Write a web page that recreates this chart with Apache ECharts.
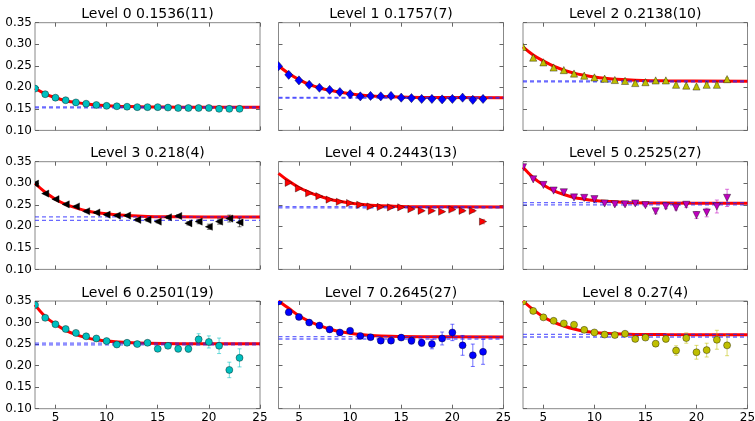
<!DOCTYPE html>
<html>
<head>
<meta charset="utf-8">
<script src="https://cdn.jsdelivr.net/npm/echarts@6/dist/echarts.min.js"></script>
<style>
html, body { margin: 0; padding: 0; background: #fff; }
#chart { width: 755px; height: 421px; }
</style>
</head>
<body>
<div id="chart"></div>
<script>
// Time steps for every level
const steps = [3,4,5,6,7,8,9,10,11,12,13,14,15,16,17,18,19,20,21,22,23];
const xTicks = [5, 10, 15, 20, 25];
const yTicks = [0.10, 0.15, 0.20, 0.25, 0.30, 0.35];
const xRange = [3, 25];

const titles = [
  'Level 0 0.1536(11)', 'Level 1 0.1757(7)', 'Level 2 0.2138(10)',
  'Level 3 0.218(4)', 'Level 4 0.2443(13)', 'Level 5 0.2525(27)',
  'Level 6 0.2501(19)', 'Level 7 0.2645(27)', 'Level 8 0.27(4)'
];

// Measured values per level
const level0 = [0.197,0.184,0.176,0.170,0.165,0.162,0.159,0.157,0.156,0.155,0.154,0.154,0.154,0.153,0.152,0.152,0.152,0.152,0.150,0.150,0.150];
const level1 = [0.249,0.229,0.216,0.206,0.199,0.194,0.189,0.184,0.179,0.180,0.179,0.180,0.176,0.175,0.173,0.173,0.172,0.173,0.176,0.171,0.173];
const level2 = [0.294,0.269,0.258,0.246,0.240,0.232,0.227,0.223,0.220,0.217,0.215,0.210,0.212,0.216,0.216,0.206,0.204,0.202,0.206,0.206,0.219];
const level3 = [0.299,0.276,0.263,0.251,0.246,0.235,0.232,0.227,0.225,0.225,0.215,0.215,0.211,0.221,0.224,0.207,0.211,0.199,0.211,0.218,0.209];
const level4 = [null,0.301,0.288,0.277,0.270,0.262,0.257,0.254,0.250,0.246,0.245,0.244,0.244,0.240,0.236,0.236,0.234,0.239,0.236,0.236,0.211];
const level5 = [0.337,0.309,0.296,0.283,0.279,0.267,0.266,0.263,0.253,0.251,0.251,0.253,0.249,0.235,0.246,0.243,0.250,0.226,0.232,0.246,0.266];
const level6 = [0.341,0.311,0.296,0.285,0.276,0.268,0.263,0.257,0.249,0.253,0.250,0.253,0.239,0.246,0.239,0.239,0.261,0.255,0.246,0.190,0.218];
const level7 = [0.349,0.324,0.313,0.300,0.293,0.284,0.277,0.281,0.269,0.266,0.258,0.258,0.265,0.258,0.253,0.250,0.263,0.277,0.247,0.224,0.232];
const level8 = [0.349,0.327,0.312,0.304,0.298,0.295,0.283,0.277,0.272,0.271,0.274,0.262,0.265,0.251,0.262,0.235,0.264,0.231,0.236,0.260,0.247];

// Statistical errors per level
const err0 = [0.001,0.001,0.001,0.001,0.001,0.001,0.001,0.001,0.001,0.001,0.001,0.001,0.001,0.001,0.001,0.001,0.001,0.002,0.002,0.002,0.002];
const err1 = [0.001,0.001,0.001,0.001,0.001,0.001,0.001,0.001,0.001,0.001,0.001,0.001,0.001,0.001,0.001,0.001,0.002,0.002,0.002,0.002,0.002];
const err2 = [0.001,0.001,0.001,0.001,0.001,0.001,0.001,0.001,0.001,0.002,0.002,0.002,0.002,0.002,0.002,0.002,0.002,0.003,0.003,0.003,0.003];
const err3 = [0.001,0.001,0.001,0.001,0.002,0.002,0.002,0.002,0.002,0.002,0.003,0.003,0.003,0.003,0.003,0.004,0.005,0.006,0.006,0.008,0.010];
const err4 = [0.001,0.001,0.001,0.001,0.001,0.001,0.001,0.001,0.001,0.001,0.002,0.002,0.002,0.002,0.002,0.002,0.002,0.003,0.003,0.003,0.005];
const err5 = [0.001,0.001,0.001,0.002,0.002,0.002,0.002,0.002,0.002,0.003,0.003,0.003,0.003,0.006,0.005,0.005,0.006,0.008,0.010,0.015,0.020];
const err6 = [0.001,0.001,0.001,0.002,0.002,0.002,0.002,0.003,0.003,0.003,0.004,0.004,0.006,0.006,0.007,0.008,0.013,0.014,0.018,0.018,0.021];
const err7 = [0.001,0.001,0.001,0.002,0.002,0.002,0.003,0.003,0.004,0.004,0.005,0.005,0.006,0.008,0.008,0.011,0.015,0.019,0.023,0.026,0.029];
const err8 = [0.001,0.001,0.002,0.002,0.002,0.003,0.003,0.003,0.004,0.004,0.004,0.005,0.005,0.006,0.007,0.011,0.012,0.016,0.016,0.022,0.024];

// Fitted curves, sampled along the time axis
const fitSteps = [3,4,5,6,7,8,9,10,11,12,14,17,25];
const fit0 = [0.198,0.185,0.176,0.169,0.165,0.1615,0.159,0.1575,0.1563,0.1555,0.1545,0.154,0.1537];
const fit1 = [0.250,0.232,0.218,0.207,0.199,0.193,0.189,0.185,0.182,0.180,0.178,0.1765,0.1758];
const fit2 = [0.294,0.275,0.261,0.249,0.240,0.233,0.228,0.224,0.221,0.219,0.2165,0.215,0.2142];
const fit3 = [0.300,0.279,0.263,0.251,0.243,0.236,0.232,0.229,0.227,0.225,0.223,0.222,0.2215];
const fit4 = [0.323,0.305,0.290,0.279,0.270,0.263,0.258,0.254,0.251,0.249,0.247,0.2455,0.245];
const fit5 = [0.337,0.313,0.296,0.283,0.274,0.267,0.263,0.260,0.258,0.257,0.2545,0.254,0.2535];
const fit6 = [0.341,0.314,0.296,0.282,0.272,0.265,0.260,0.257,0.255,0.2535,0.252,0.251,0.2505];
const fit7 = [0.350,0.333,0.316,0.303,0.293,0.285,0.279,0.275,0.272,0.270,0.268,0.267,0.2665];
const fit8 = [0.350,0.330,0.313,0.301,0.292,0.285,0.280,0.277,0.275,0.274,0.2725,0.272,0.2718];

// Plateau estimate and its error per level
const plateau = [0.1536, 0.1757, 0.2138, 0.218, 0.2443, 0.2525, 0.2501, 0.2645, 0.2695];
const plateauErr = [0.0011, 0.0007, 0.0010, 0.004, 0.0013, 0.0027, 0.0019, 0.0027, 0.0031];

const values = [level0, level1, level2, level3, level4, level5, level6, level7, level8];
const errors = [err0, err1, err2, err3, err4, err5, err6, err7, err8];
const fits = [fit0, fit1, fit2, fit3, fit4, fit5, fit6, fit7, fit8];

// Marker shape and colour per level
const styles = [
  { marker: 'circle', color: '#00bfbf' },
  { marker: 'diamond', color: '#0000ff' },
  { marker: 'up', color: '#bfbf00' },
  { marker: 'left', color: '#000000' },
  { marker: 'right', color: '#ff0000' },
  { marker: 'down', color: '#bf00bf' },
  { marker: 'circle', color: '#00bfbf' },
  { marker: 'circle', color: '#0000ff' },
  { marker: 'circle', color: '#bfbf00' }
];

const colLeft = [35, 278.5, 523];
const colWidth = [225, 225, 224.5];
const rowTop = [22.7, 161.7, 301];
const panelHeight = 107.7;
const FONT = 'DejaVu Sans';

function hexToRgba(hex, a) {
  const n = parseInt(hex.slice(1), 16);
  return 'rgba(' + ((n >> 16) & 255) + ',' + ((n >> 8) & 255) + ',' + (n & 255) + ',' + a + ')';
}

// Marker outline around a centre point (cx, cy)
function markerShape(kind, cx, cy) {
  const r = 3.6;
  switch (kind) {
    case 'circle': return { type: 'circle', shape: { cx: cx, cy: cy, r: 3.5 } };
    case 'diamond': return { type: 'polygon', shape: { points: [[cx, cy - 4.6], [cx + 4, cy], [cx, cy + 4.6], [cx - 4, cy]] } };
    case 'up': return { type: 'polygon', shape: { points: [[cx, cy - r], [cx + r, cy + r], [cx - r, cy + r]] } };
    case 'down': return { type: 'polygon', shape: { points: [[cx - r, cy - r], [cx + r, cy - r], [cx, cy + r]] } };
    case 'left': return { type: 'polygon', shape: { points: [[cx - r, cy], [cx + r, cy - r], [cx + r, cy + r]] } };
    case 'right': return { type: 'polygon', shape: { points: [[cx + r, cy], [cx - r, cy - r], [cx - r, cy + r]] } };
  }
}

const grids = [], xAxes = [], yAxes = [], series = [], graphics = [];

for (let i = 0; i < 9; i++) {
  const col = i % 3, row = Math.floor(i / 3);
  grids.push({
    left: colLeft[col], top: rowTop[row], width: colWidth[col], height: panelHeight,
    show: true, borderColor: '#888', borderWidth: 1, backgroundColor: 'transparent',
    containLabel: false, outerBoundsMode: 'none'
  });

  const tick = { show: true, inside: true, length: 4, lineStyle: { color: '#666', width: 1 } };
  const xBase = {
    type: 'value', gridIndex: i, min: xRange[0], max: xRange[1],
    axisLine: { show: false }, splitLine: { show: false }
  };
  xAxes.push(Object.assign({}, xBase, {
    position: 'bottom',
    axisTick: Object.assign({ customValues: xTicks }, tick),
    axisLabel: {
      show: row === 2, customValues: xTicks, margin: 3,
      fontFamily: FONT, fontSize: 12, color: '#000'
    }
  }));
  xAxes.push(Object.assign({}, xBase, {
    position: 'top',
    axisTick: Object.assign({ customValues: xTicks }, tick),
    axisLabel: { show: false }
  }));

  const yBase = {
    type: 'value', gridIndex: i, min: 0.10, max: 0.35,
    axisLine: { show: false }, splitLine: { show: false }
  };
  yAxes.push(Object.assign({}, yBase, {
    position: 'left',
    axisTick: Object.assign({ customValues: yTicks }, tick),
    axisLabel: {
      show: col === 0, customValues: yTicks, margin: 3,
      formatter: v => v.toFixed(2),
      fontFamily: FONT, fontSize: 12, color: '#000'
    }
  }));
  yAxes.push(Object.assign({}, yBase, {
    position: 'right',
    axisTick: Object.assign({ customValues: yTicks }, tick),
    axisLabel: { show: false }
  }));

  const st = styles[i];
  const pts = [];
  steps.forEach((s, k) => {
    if (values[i][k] != null) pts.push([s, values[i][k], errors[i][k]]);
  });

  // fitted curve
  series.push({
    type: 'line', xAxisIndex: 2 * i, yAxisIndex: 2 * i, z: 2,
    data: fitSteps.map((s, k) => [s, fits[i][k]]),
    smooth: 0.4, showSymbol: false, silent: true, animation: false,
    lineStyle: { color: '#ff0000', width: 3 }
  });

  // plateau band: lower and upper dashed lines
  [plateau[i] - plateauErr[i], plateau[i] + plateauErr[i]].forEach(level => {
    series.push({
      type: 'line', xAxisIndex: 2 * i, yAxisIndex: 2 * i, z: 3,
      data: [[xRange[0], level], [xRange[1], level]],
      showSymbol: false, silent: true, animation: false,
      lineStyle: { color: 'rgba(40,40,255,0.7)', width: 1.3, type: [4, 3] }
    });
  });

  // error bars
  const barColor = hexToRgba(st.color, 0.55);
  series.push({
    type: 'custom', xAxisIndex: 2 * i, yAxisIndex: 2 * i, z: 3, clip: true,
    data: pts, encode: { x: 0, y: 1 }, animation: false, silent: true,
    renderItem: function (params, api) {
      const x = api.value(0), y = api.value(1), e = api.value(2);
      const hi = api.coord([x, y + e]);
      const lo = api.coord([x, y - e]);
      const cw = 2;
      const ls = { stroke: barColor, lineWidth: 1 };
      return {
        type: 'group',
        children: [
          { type: 'line', shape: { x1: hi[0], y1: hi[1], x2: lo[0], y2: lo[1] }, style: ls },
          { type: 'line', shape: { x1: hi[0] - cw, y1: hi[1], x2: hi[0] + cw, y2: hi[1] }, style: ls },
          { type: 'line', shape: { x1: lo[0] - cw, y1: lo[1], x2: lo[0] + cw, y2: lo[1] }, style: ls }
        ]
      };
    }
  });

  // data points, clipped to the panel
  series.push({
    type: 'custom', xAxisIndex: 2 * i, yAxisIndex: 2 * i, z: 4, clip: true,
    data: pts.map(p => [p[0], p[1]]), encode: { x: 0, y: 1 },
    animation: false, silent: true,
    renderItem: function (params, api) {
      const c = api.coord([api.value(0), api.value(1)]);
      const el = markerShape(st.marker, c[0], c[1]);
      el.style = { fill: st.color, stroke: 'rgba(0,0,0,0.55)', lineWidth: 0.7 };
      return el;
    }
  });

  graphics.push({
    type: 'text',
    x: colLeft[col] + colWidth[col] / 2,
    y: rowTop[row] - 1,
    style: {
      text: titles[i], fontFamily: FONT, fontSize: 14, fill: '#000',
      align: 'center', verticalAlign: 'bottom',
      textAlign: 'center', textVerticalAlign: 'bottom'
    }
  });
}

const chart = echarts.init(document.getElementById('chart'), null, { renderer: 'canvas' });
chart.setOption({
  backgroundColor: '#ffffff',
  animation: false,
  grid: grids,
  xAxis: xAxes,
  yAxis: yAxes,
  series: series,
  graphic: graphics
});
</script>
</body>
</html>
